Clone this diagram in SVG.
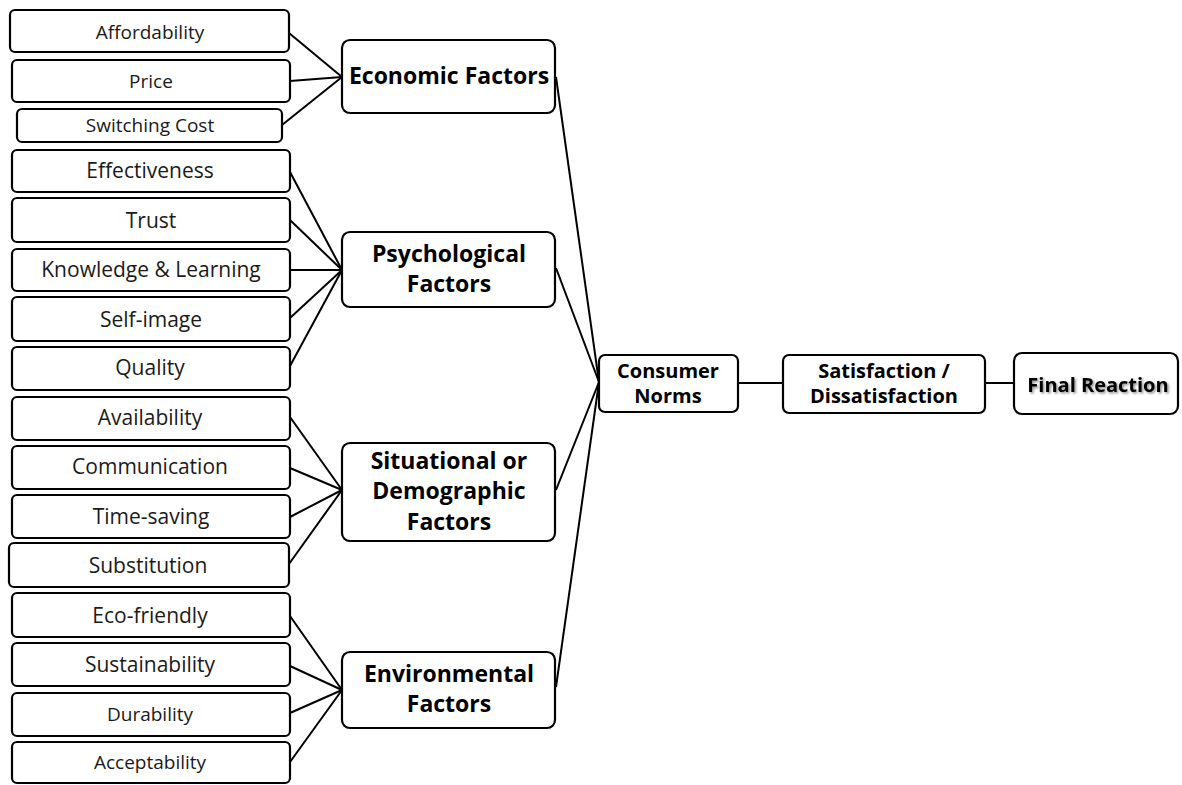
<svg xmlns="http://www.w3.org/2000/svg" width="1182" height="785" viewBox="0 0 1182 785">
<defs>
<style>
.box{fill:#fff;stroke:#000;stroke-width:2.2}
.leaf{font-family:"Open Sans","DejaVu Sans",sans-serif;font-size:21px;fill:#1a1a1a;text-anchor:middle}
.sm{font-size:19px}
.mid{font-family:"Open Sans","DejaVu Sans",sans-serif;font-size:23px;font-weight:bold;fill:#000;text-anchor:middle}
.rt{font-family:"Open Sans","DejaVu Sans",sans-serif;font-size:20px;font-weight:bold;fill:#000;text-anchor:middle}
.ln{stroke:#000;stroke-width:2;fill:none}
</style>
<filter id="sh" x="-10%" y="-30%" width="130%" height="160%">
<feDropShadow dx="1.5" dy="1.5" stdDeviation="1" flood-color="#000" flood-opacity="0.45"/>
</filter>
</defs>
<rect width="1182" height="785" fill="#fff"/>
<g id="connectors">
<line class="ln" x1="289" y1="33" x2="342" y2="77"/>
<line class="ln" x1="290" y1="81" x2="342" y2="77"/>
<line class="ln" x1="282" y1="125" x2="342" y2="77"/>
<line class="ln" x1="290" y1="172" x2="342" y2="270"/>
<line class="ln" x1="290" y1="220" x2="342" y2="270"/>
<line class="ln" x1="290" y1="270" x2="342" y2="270"/>
<line class="ln" x1="290" y1="318" x2="342" y2="270"/>
<line class="ln" x1="290" y1="366" x2="342" y2="270"/>
<line class="ln" x1="290" y1="417" x2="342" y2="490"/>
<line class="ln" x1="290" y1="468" x2="342" y2="490"/>
<line class="ln" x1="290" y1="517" x2="342" y2="490"/>
<line class="ln" x1="289" y1="564" x2="342" y2="490"/>
<line class="ln" x1="290" y1="616" x2="342" y2="690"/>
<line class="ln" x1="290" y1="666" x2="342" y2="690"/>
<line class="ln" x1="290" y1="713" x2="342" y2="690"/>
<line class="ln" x1="290" y1="762" x2="342" y2="690"/>
<line class="ln" x1="556" y1="77" x2="599" y2="382"/>
<line class="ln" x1="556" y1="268" x2="599" y2="382"/>
<line class="ln" x1="556" y1="490" x2="599" y2="382"/>
<line class="ln" x1="556" y1="687" x2="599" y2="382"/>
<line class="ln" x1="738" y1="383" x2="783" y2="383"/>
<line class="ln" x1="985" y1="383" x2="1014" y2="383"/>
</g>
<g id="n-affordability"><rect class="box" x="10" y="10" width="279" height="42" rx="5"/><text class="leaf sm" x="150" y="39">Affordability</text></g>
<g id="n-price"><rect class="box" x="12" y="60" width="278" height="42" rx="5"/><text class="leaf sm" x="151" y="88">Price</text></g>
<g id="n-switching"><rect class="box" x="17" y="109" width="265" height="33" rx="5"/><text class="leaf sm" x="150" y="132">Switching Cost</text></g>
<g id="n-effectiveness"><rect class="box" x="12" y="150" width="278" height="42" rx="5"/><text class="leaf" x="150" y="178">Effectiveness</text></g>
<g id="n-trust"><rect class="box" x="12" y="198" width="278" height="44" rx="5"/><text class="leaf" x="151" y="228">Trust</text></g>
<g id="n-knowledge"><rect class="box" x="12" y="249" width="278" height="42" rx="5"/><text class="leaf" x="151" y="277">Knowledge &amp; Learning</text></g>
<g id="n-selfimage"><rect class="box" x="12" y="297" width="278" height="44" rx="5"/><text class="leaf" x="151" y="327">Self-image</text></g>
<g id="n-quality"><rect class="box" x="12" y="347" width="278" height="43" rx="5"/><text class="leaf" x="150" y="375">Quality</text></g>
<g id="n-availability"><rect class="box" x="12" y="397" width="278" height="43" rx="5"/><text class="leaf" x="150" y="425">Availability</text></g>
<g id="n-communication"><rect class="box" x="12" y="446" width="278" height="43" rx="5"/><text class="leaf" x="150" y="474">Communication</text></g>
<g id="n-timesaving"><rect class="box" x="12" y="495" width="278" height="43" rx="5"/><text class="leaf" x="151" y="524">Time-saving</text></g>
<g id="n-substitution"><rect class="box" x="9" y="543" width="280" height="44" rx="5"/><text class="leaf" x="148" y="573">Substitution</text></g>
<g id="n-ecofriendly"><rect class="box" x="12" y="593" width="278" height="44" rx="5"/><text class="leaf" x="150" y="623">Eco-friendly</text></g>
<g id="n-sustainability"><rect class="box" x="12" y="643" width="278" height="43" rx="5"/><text class="leaf" x="150" y="672">Sustainability</text></g>
<g id="n-durability"><rect class="box" x="12" y="693" width="278" height="43" rx="5"/><text class="leaf sm" x="150" y="721">Durability</text></g>
<g id="n-acceptability"><rect class="box" x="12" y="742" width="278" height="41" rx="5"/><text class="leaf sm" x="150" y="769">Acceptability</text></g>
<g id="n-economic"><rect class="box" x="342" y="40" width="213" height="73" rx="8"/><text class="mid" x="449" y="84">Economic Factors</text></g>
<g id="n-psychological"><rect class="box" x="342" y="232" width="213" height="75" rx="8"/><text class="mid" x="449" y="262">Psychological</text><text class="mid" x="449" y="292">Factors</text></g>
<g id="n-situational"><rect class="box" x="342" y="443" width="213" height="98" rx="8"/><text class="mid" x="449" y="469">Situational or</text><text class="mid" x="449" y="499">Demographic</text><text class="mid" x="449" y="530">Factors</text></g>
<g id="n-environmental"><rect class="box" x="342" y="652" width="213" height="76" rx="8"/><text class="mid" x="449" y="682">Environmental</text><text class="mid" x="449" y="712">Factors</text></g>
<g id="n-consumer"><rect class="box" x="599" y="355" width="139" height="57" rx="6"/><text class="rt" x="668" y="378">Consumer</text><text class="rt" x="668" y="403">Norms</text></g>
<g id="n-satisfaction"><rect class="box" x="783" y="355" width="202" height="58" rx="6"/><text class="rt" x="884" y="378">Satisfaction /</text><text class="rt" x="884" y="403">Dissatisfaction</text></g>
<g id="n-final"><rect class="box" x="1014" y="353" width="164" height="61" rx="8"/><text class="rt" x="1098" y="392" filter="url(#sh)">Final Reaction</text></g>
</svg>
